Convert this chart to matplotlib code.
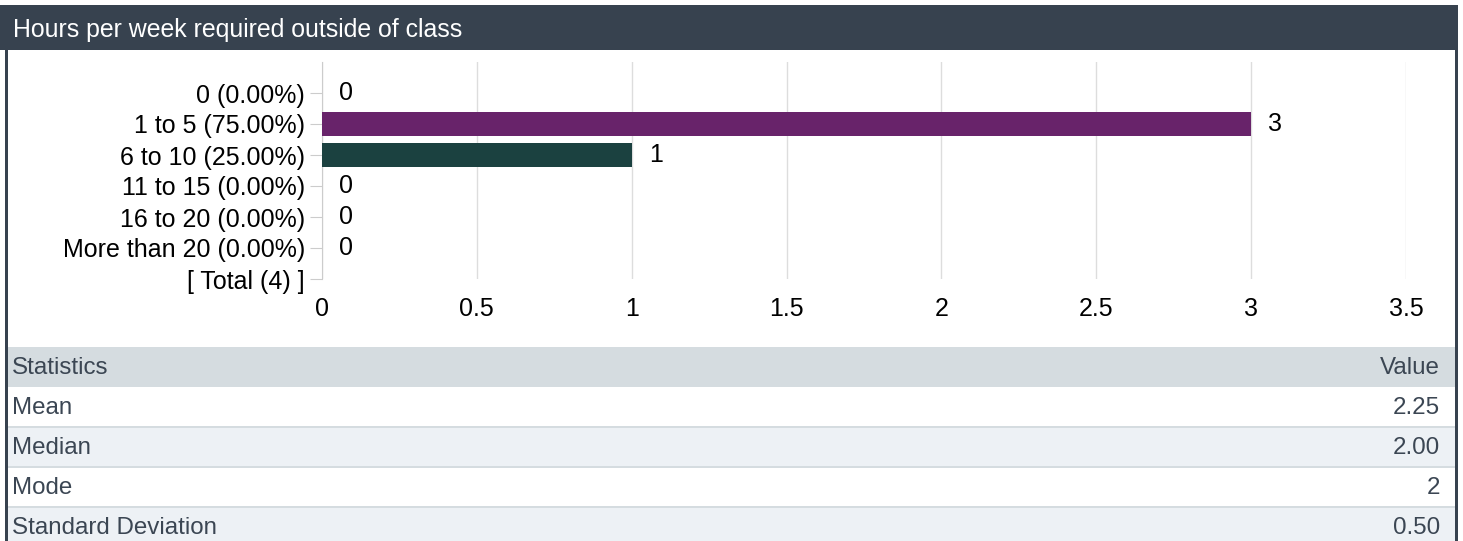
import matplotlib
matplotlib.use("Agg")
import matplotlib.pyplot as plt
from matplotlib.patches import Rectangle

plt.rcParams['font.family'] = ['Liberation Sans', 'DejaVu Sans']

title = "Hours per week required outside of class"
categories = ["0 (0.00%)", "1 to 5 (75.00%)", "6 to 10 (25.00%)", "11 to 15 (0.00%)",
              "16 to 20 (0.00%)", "More than 20 (0.00%)", "[ Total (4) ]"]
counts = [0, 3, 1, 0, 0, 0]
bar_colors = ["#68236a", "#68236a", "#1b4140", "#68236a", "#68236a", "#68236a"]
x_ticks = [0, 0.5, 1, 1.5, 2, 2.5, 3, 3.5]
x_tick_labels = ["0", "0.5", "1", "1.5", "2", "2.5", "3", "3.5"]
stats_header = ["Statistics", "Value"]
stats_names = ["Mean", "Median", "Mode", "Standard Deviation"]
stats_values = ["2.25", "2.00", "2", "0.50"]

W, H = 1463, 541
fig = plt.figure(figsize=(W / 100, H / 100), dpi=100)

# background overlay in pixel coordinates (y downward)
bg = fig.add_axes([0, 0, 1, 1])
bg.set_xlim(0, W)
bg.set_ylim(H, 0)
bg.axis("off")

dark = "#37424f"
bg.add_patch(Rectangle((0, 5), 1458, 45, color=dark, lw=0))
bg.text(13, 30, title, color="white", fontsize=17.9, va="center", ha="left")
bg.add_patch(Rectangle((5, 50), 2.5, H - 50, color=dark, lw=0))
bg.add_patch(Rectangle((1455, 50), 3, H - 50, color=dark, lw=0))

# statistics table
row_h = 40
top = 347
text_col = "#3b4653"
fs_tab = 17.4
bg.add_patch(Rectangle((8, top), 1447, row_h, color="#d5dce0", lw=0))
bg.text(12, top + row_h / 2 + 1, stats_header[0], color=text_col, fontsize=fs_tab, va="center")
bg.text(1440, top + row_h / 2 + 1, stats_header[1], color=text_col, fontsize=fs_tab, va="center", ha="right")
for i, (name, val) in enumerate(zip(stats_names, stats_values)):
    y0 = top + row_h * (i + 1)
    fc = "white" if i % 2 == 0 else "#edf1f5"
    bg.add_patch(Rectangle((8, y0), 1447, row_h, color=fc, lw=0))
    if i > 0:
        bg.add_patch(Rectangle((8, y0 - 1), 1447, 2, color="#d5dce0", lw=0))
    bg.text(12, y0 + row_h / 2 + 1, name, color=text_col, fontsize=fs_tab, va="center")
    bg.text(1440, y0 + row_h / 2 + 1, val, color=text_col, fontsize=fs_tab, va="center", ha="right")

# bar chart
L, R, T, B = 322, 1406, 62, 279
fs = 18
ax = fig.add_axes([L / W, (H - B) / H, (R - L) / W, (B - T) / H])
ax.set_facecolor("none")
ypos = list(range(len(categories)))
ax.barh(ypos[:len(counts)], counts, height=0.77, color=bar_colors, zorder=3)
for y, c in zip(ypos, counts):
    ax.annotate(str(c), (c, y), xytext=(17, 0), textcoords="offset pixels",
                va="center", ha="left", fontsize=fs, color="black")
ax.set_xlim(0, 3.5)
ax.set_ylim(6, -1)
ax.set_xticks(x_ticks)
ax.set_xticklabels(x_tick_labels)
ax.set_yticks(ypos)
ax.set_yticklabels(categories)
ax.grid(axis="x", color="#dddddd", lw=1, zorder=0)
for s in ["top", "right", "bottom"]:
    ax.spines[s].set_visible(False)
ax.spines["left"].set_color("#cccccc")
ax.tick_params(axis="y", length=8.6, color="#cccccc", pad=3.6, labelsize=fs)
ax.tick_params(axis="x", length=0, pad=13, labelsize=fs)

fig.savefig("out.png", dpi=100)
